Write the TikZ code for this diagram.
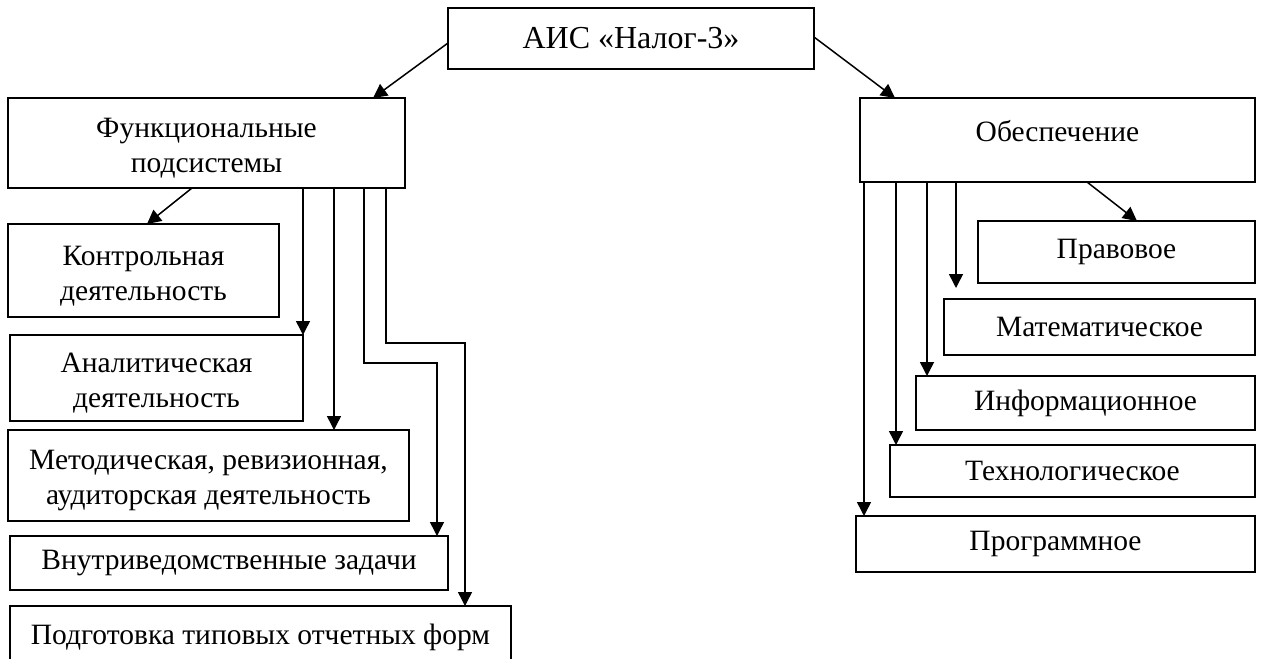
\documentclass[tikz,border=0pt]{standalone}
\usepackage{fontspec}
\setmainfont{Liberation Serif}
\usetikzlibrary{arrows.meta}
\newcommand\lowstrut{\rule{0pt}{30pt}}
\tikzset{
  box/.style={draw, line width=1.8pt, anchor=north west, inner sep=0pt, outer sep=0pt, align=center,
    font=\fontsize{29.5}{35}\selectfont},
  arr/.style={line width=1.5pt, -{Triangle[length=14pt,width=14pt]}},
}
\begin{document}
\begin{tikzpicture}[x=1pt,y=1pt]
\useasboundingbox (0,0) rectangle (1262,-659);
\clip (0,0) rectangle (1262,-659);
\fill[white] (0,0) rectangle (1262,-659);
% top
\node[box, minimum width=366pt, minimum height=61pt, font=\fontsize{32}{36}\selectfont] (aic) at (448,-8) {АИС «Налог-3»};
% left branch
\node[box, minimum width=397pt, minimum height=90pt] (func) at (8,-98) {\lowstrut Функциональные\\подсистемы};
\node[box, minimum width=271pt, minimum height=93pt] (kontr) at (8,-224) {\lowstrut Контрольная\\деятельность};
\node[box, minimum width=293pt, minimum height=86pt] (anal) at (10,-335) {\lowstrut Аналитическая\\деятельность};
\node[box, minimum width=401pt, minimum height=91pt] (metod) at (8,-430) {\lowstrut Методическая, ревизионная,\\аудиторская деятельность};
\node[box, minimum width=438pt, minimum height=54pt] (vnutr) at (10,-536) {Внутриведомственные задачи};
\node[box, minimum width=501pt, minimum height=80pt] (podg) at (10,-606) {\raisebox{9pt}[\height][\depth]{Подготовка типовых отчетных форм}};
% right branch
\node[box, minimum width=395pt, minimum height=84pt] (obesp) at (860,-98) {\raisebox{9pt}[\height][\depth]{Обеспечение}};
\node[box, minimum width=277pt, minimum height=62pt] (prav) at (978,-221) {Правовое};
\node[box, minimum width=311pt, minimum height=56pt] (mat) at (944,-299) {Математическое};
\node[box, minimum width=339pt, minimum height=54pt] (inf) at (916,-376) {Информационное};
\node[box, minimum width=365pt, minimum height=52pt] (tech) at (890,-445) {Технологическое};
\node[box, minimum width=399pt, minimum height=56pt] (prog) at (856,-516) {Программное};
% connectors from top
\draw[arr] ([yshift=-35pt]aic.north west) -- ([xshift=365pt]func.north west);
\draw[arr] ([yshift=-29pt]aic.north east) -- ([xshift=35pt]obesp.north west);
% left connectors
\draw[arr] ([xshift=184pt]func.south west) -- ([xshift=139pt]kontr.north west);
\draw[arr] ([xshift=295pt]func.south west) -- (anal.north east);
\draw[arr] ([xshift=326pt]func.south west) -- ([xshift=326pt]metod.north west);
\draw[arr] ([xshift=356pt]func.south west) -- ++(0,-175) -| ([xshift=427pt]vnutr.north west);
\draw[arr] ([xshift=378pt]func.south west) -- ++(0,-155) -| ([xshift=455pt]podg.north west);
% right connectors
\draw[arr] ([xshift=227pt]obesp.south west) -- ([xshift=159pt]prav.north west);
\draw[arr, shorten >=11pt] ([xshift=96pt]obesp.south west) -- ([xshift=12pt]mat.north west);
\draw[arr] ([xshift=67pt]obesp.south west) -- ([xshift=11pt]inf.north west);
\draw[arr] ([xshift=36pt]obesp.south west) -- ([xshift=6pt]tech.north west);
\draw[arr] ([xshift=4pt]obesp.south west) -- ([xshift=8pt]prog.north west);
\end{tikzpicture}
\end{document}
